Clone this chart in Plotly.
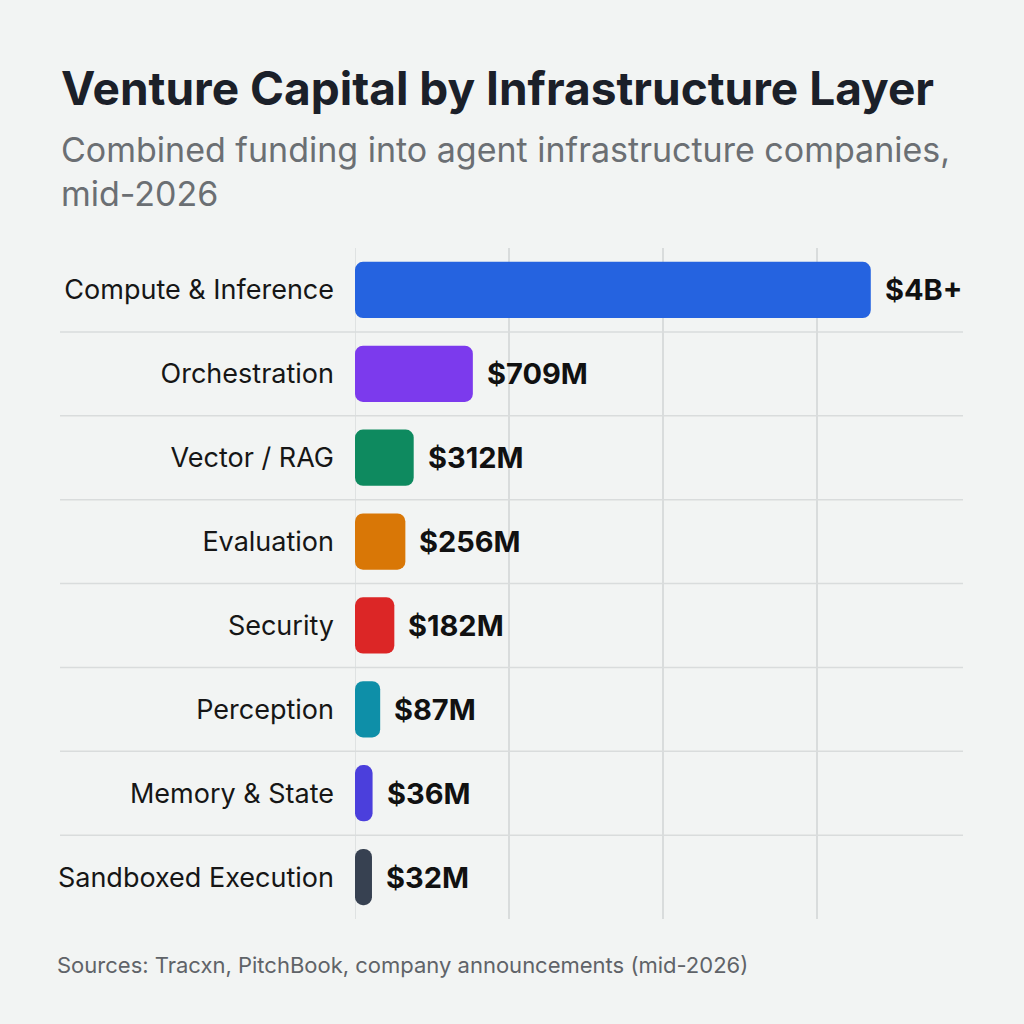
import plotly.graph_objects as go

# ---- data ----
categories = ["Compute & Inference", "Orchestration", "Vector / RAG", "Evaluation",
              "Security", "Perception", "Memory & State", "Sandboxed Execution"]
funding_musd = [4000, 709, 312, 256, 182, 87, 36, 32]
value_labels = ["$4B+", "$709M", "$312M", "$256M", "$182M", "$87M", "$36M", "$32M"]
bar_colors = ["#2563e0", "#7c3aed", "#0e8a5f", "#d97706", "#dc2626", "#0e8fa8", "#4b3fdc", "#374151"]

title = "Venture Capital by Infrastructure Layer"
subtitle = "Combined funding into agent infrastructure companies,<br>mid-2026"
source = "Sources: Tracxn, PitchBook, company announcements (mid-2026)"

# display settings
AXIS_START = -82          # bars are drawn from the left edge of the axis (small stub keeps tiny values visible)
DISPLAY_CAP = 3380        # "$4B+" is open-ended; its bar is capped
AXIS_END = 3999
GRID_STEP = 1034

display_vals = [min(v, DISPLAY_CAP) for v in funding_musd]
bar_len = [v - AXIS_START for v in display_vals]

FONT = "Inter, 'Noto Sans', sans-serif"
GRID = "#d9dcdc"

# plot area geometry in pixels
W, H = 1024, 1024
L, R, T, B = 355, 61, 248, 105
PW, PH = W - L - R, H - T - B


def px_x(px):
    return (px - L) / PW


def px_y(py):
    return (H - B - py) / PH


fig = go.Figure()
fig.add_trace(go.Bar(
    y=categories,
    x=bar_len,
    base=AXIS_START,
    orientation="h",
    marker=dict(color=bar_colors, cornerradius=8, line=dict(width=0)),
    width=0.67,
    hoverinfo="skip",
))

annotations = []
for cat, dv, lab in zip(categories, display_vals, value_labels):
    annotations.append(dict(
        x=dv, y=cat, xref="x", yref="y", text=lab, showarrow=False,
        xanchor="left", yanchor="middle", xshift=12,
        font=dict(family=FONT, size=29, color="#111111", weight=700),
    ))

annotations.append(dict(
    x=px_x(59), y=px_y(88), xref="paper", yref="paper", text=title, showarrow=False,
    xanchor="left", yanchor="middle",
    font=dict(family=FONT, size=46, color="#1b2029", weight=700),
))
annotations.append(dict(
    x=px_x(59), y=px_y(171), xref="paper", yref="paper", text=subtitle, showarrow=False,
    xanchor="left", yanchor="middle", align="left",
    font=dict(family=FONT, size=34, color="#6b6f73"),
))
annotations.append(dict(
    x=px_x(55), y=px_y(965), xref="paper", yref="paper", text=source, showarrow=False,
    xanchor="left", yanchor="middle",
    font=dict(family=FONT, size=22, color="#5f6368"),
))

shapes = []
for i in range(len(categories) - 1):
    shapes.append(dict(
        type="line", xref="paper", yref="y",
        x0=px_x(60), x1=1, y0=i + 0.5, y1=i + 0.5,
        line=dict(color=GRID, width=1.5), layer="below",
    ))
# gridline at the left edge of the axis
shapes.append(dict(
    type="line", xref="x", yref="paper",
    x0=AXIS_START, x1=AXIS_START, y0=0, y1=1,
    line=dict(color=GRID, width=1.5), layer="below",
))

fig.update_layout(
    width=W, height=H,
    margin=dict(l=L, r=R, t=T, b=B),
    paper_bgcolor="#f2f4f3",
    plot_bgcolor="#f2f4f3",
    showlegend=False,
    annotations=annotations,
    shapes=shapes,
    xaxis=dict(
        range=[AXIS_START, AXIS_END],
        tick0=AXIS_START, dtick=GRID_STEP,
        showgrid=True, gridcolor=GRID, gridwidth=1.5,
        zeroline=False, showticklabels=False, showline=False, fixedrange=True,
    ),
    yaxis=dict(
        categoryorder="array", categoryarray=categories,
        autorange="reversed",
        showgrid=False, zeroline=False, showline=False,
        ticks="", ticklabelstandoff=20,
        tickfont=dict(family=FONT, size=27, color="#161616"),
        fixedrange=True,
    ),
)

fig.write_html("out.html", config={"displayModeBar": False})
